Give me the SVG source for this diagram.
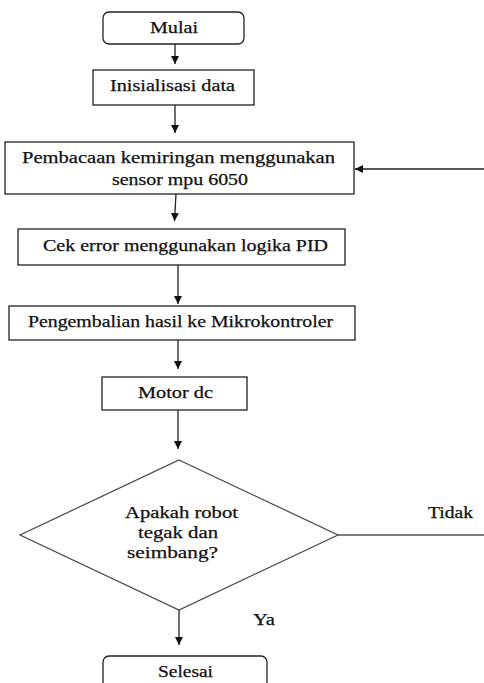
<svg xmlns="http://www.w3.org/2000/svg" width="484" height="683" viewBox="0 0 484 683" font-family="Liberation Serif, DejaVu Serif, serif">
<style>
.box{fill:#fff;stroke:#222;stroke-width:1.3}
.dia{fill:#fff;stroke:#444;stroke-width:1.2}
.ln{fill:none;stroke:#222;stroke-width:1.3}
text{font-family:'Liberation Serif','DejaVu Serif',serif;font-size:16px;fill:#111;stroke:#111;stroke-width:0.25}
</style>
<defs>
<marker id="ah" viewBox="0 0 10 10" refX="10" refY="5" markerWidth="8" markerHeight="8" markerUnits="userSpaceOnUse" orient="auto">
<path d="M0,0 L10,5 L0,10 z" fill="#111"/>
</marker>
</defs>
<rect width="484" height="683" fill="#fff"/>
<g id="connectors">
<line class="ln" x1="175" y1="44" x2="175" y2="64" marker-end="url(#ah)"/>
<line class="ln" x1="175" y1="105" x2="175" y2="133" marker-end="url(#ah)"/>
<line class="ln" x1="176" y1="194" x2="174.5" y2="221" marker-end="url(#ah)"/>
<line class="ln" x1="178" y1="265" x2="178" y2="304" marker-end="url(#ah)"/>
<line class="ln" x1="178" y1="340" x2="178" y2="369" marker-end="url(#ah)"/>
<line class="ln" x1="178" y1="410" x2="178" y2="449" marker-end="url(#ah)"/>
<line class="ln" x1="179" y1="610" x2="179" y2="645" marker-end="url(#ah)"/>
<line class="ln" x1="338" y1="535" x2="484" y2="535" style="stroke:#555"/>
<line class="ln" x1="484" y1="169" x2="355" y2="169" marker-end="url(#ah)"/>
<text x="253" y="625" textLength="22" lengthAdjust="spacingAndGlyphs">Ya</text>
<text x="428" y="518" textLength="45" lengthAdjust="spacingAndGlyphs">Tidak</text>
</g>
<g id="mulai">
<rect class="box" x="103" y="12" width="141" height="32" rx="6"/>
<text x="150" y="33" textLength="48" lengthAdjust="spacingAndGlyphs">Mulai</text>
</g>
<g id="inisialisasi">
<rect class="box" x="93" y="70" width="161" height="35"/>
<text x="110" y="91" textLength="125" lengthAdjust="spacingAndGlyphs">Inisialisasi data</text>
</g>
<g id="pembacaan">
<rect class="box" x="5" y="142" width="349" height="52"/>
<text x="22" y="163" textLength="313" lengthAdjust="spacingAndGlyphs">Pembacaan kemiringan menggunakan</text>
<text x="112" y="185" textLength="136" lengthAdjust="spacingAndGlyphs">sensor mpu 6050</text>
</g>
<g id="cek">
<rect class="box" x="18" y="229" width="327" height="36"/>
<text x="43" y="251" textLength="285" lengthAdjust="spacingAndGlyphs">Cek error menggunakan logika PID</text>
</g>
<g id="pengembalian">
<rect class="box" x="9" y="306" width="346" height="34"/>
<text x="28" y="327" textLength="305" lengthAdjust="spacingAndGlyphs">Pengembalian hasil ke Mikrokontroler</text>
</g>
<g id="motor">
<rect class="box" x="102" y="377" width="145" height="33"/>
<text x="138" y="398" textLength="75" lengthAdjust="spacingAndGlyphs">Motor dc</text>
</g>
<g id="keputusan">
<polygon class="dia" points="179,460 338,535 179,610 20,535"/>
<text x="125" y="518" textLength="113" lengthAdjust="spacingAndGlyphs">Apakah robot</text>
<text x="138" y="538" textLength="80" lengthAdjust="spacingAndGlyphs">tegak dan</text>
<text x="127" y="558" textLength="91" lengthAdjust="spacingAndGlyphs">seimbang?</text>
</g>
<g id="selesai">
<rect class="box" x="103" y="656" width="164" height="40" rx="6"/>
<text x="158" y="677" textLength="55" lengthAdjust="spacingAndGlyphs">Selesai</text>
</g>
</svg>
